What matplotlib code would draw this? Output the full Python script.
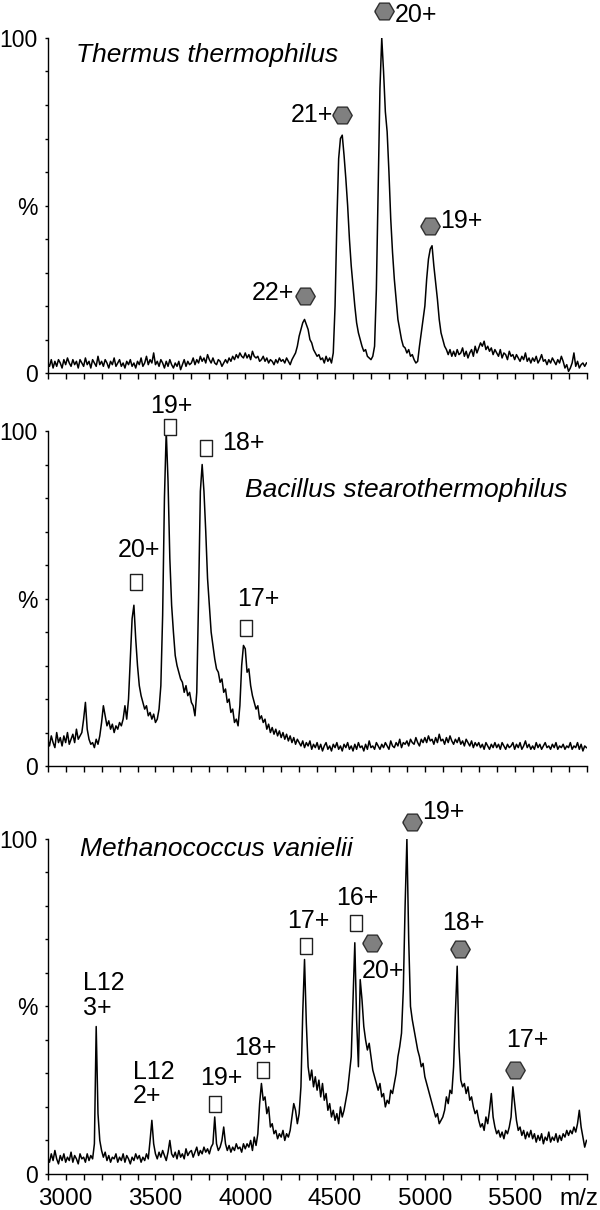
import numpy as np
import matplotlib
matplotlib.use("Agg")
import matplotlib.pyplot as plt

plt.rcParams['font.family'] = ['Liberation Sans', 'DejaVu Sans']

# m/z grid, one reading every 10 units
mz = np.arange(2900, 5901, 10)

# Thermus thermophilus (% intensity)
thermus = [
    3, 2, 4, 1.5, 3.5, 2, 4, 3, 1.5, 4,
    2.5, 4.5, 3, 2, 4, 2.5, 3.5, 1.5, 4, 3,
    2, 4.5, 2.5, 3.5, 1.5, 4, 3, 2, 5, 2.5,
    3.5, 2, 4, 3, 1.5, 3.5, 2.5, 4.5, 2, 3,
    4, 2, 3, 1.5, 3.5, 2.5, 4, 2, 3, 1.5,
    3.5, 2.5, 4.5, 2, 3, 5, 2.5, 4, 3, 6,
    2.5, 3.5, 2, 4, 3, 1.5, 3.5, 2, 4, 2.5,
    1.5, 3, 2, 3.5, 1, 2.5, 4, 2, 3.5, 2.5,
    3, 4.5, 2.5, 4, 3, 5, 3.5, 4.5, 3, 5.5,
    4, 3, 4.5, 3, 2.5, 4, 3.5, 2, 3, 4,
    3, 4.5, 3.5, 5, 4, 5.5, 4.5, 6, 5, 4.5,
    6, 4.5, 5.5, 4, 6.5, 5, 4.5, 5, 3.5, 4,
    5, 3.5, 4.5, 3, 4, 3.5, 2.5, 4, 3, 4.5,
    3.5, 4, 3, 4.5, 3.5, 2.5, 4, 5, 6, 8,
    11, 13, 15, 16, 14.5, 13, 10, 9, 7, 6,
    5, 5.5, 4, 4.5, 3, 5, 3.5, 4.5, 3, 6,
    20, 45, 64, 70, 71, 65, 58, 50, 40, 32,
    26, 20, 15, 12, 10, 8, 6.5, 7, 5, 4.5,
    4, 5, 8, 25, 55, 85, 100, 90, 78, 72,
    60, 46, 36, 28, 22, 16, 13, 10, 8, 7.5,
    6, 7, 5, 5.5, 4, 3, 3.5, 8, 12, 16,
    20, 28, 34, 37, 38, 32, 27, 22, 16, 12,
    10, 8, 7, 5.5, 7, 5, 6.5, 5, 7, 5.5,
    6, 7.5, 5, 6.5, 4.5, 6, 7, 5, 8, 6,
    7.5, 9, 8, 9.5, 7, 8, 6.5, 7.5, 5.5, 7,
    6, 5, 7, 4.5, 6, 5.5, 4, 6.5, 5, 5.5,
    4, 5.5, 4.5, 3.5, 5, 4, 6, 3.5, 4.5, 3,
    4.5, 3.5, 5, 3, 4, 5.5, 3.5, 4, 2.5, 4,
    3, 4.5, 3.5, 2.5, 4, 3, 5, 3.5, 1.5, 2.5,
    0.5, 1.5, 3, 6, 2, 3.5, 1.5, 2.5, 3, 2,
    3,
]

# Bacillus stearothermophilus
bacillus = [
    8, 6, 9, 7, 5.5, 10, 7, 8.5, 6, 9,
    7, 10, 6.5, 8, 9.5, 7, 11, 8, 9, 10,
    14, 19, 11, 8, 6.5, 7, 5.5, 8, 6.5, 9,
    13, 18, 15, 12, 13.5, 11, 12.5, 10, 12, 11,
    13, 12, 14, 18, 14, 20, 32, 44, 48, 38,
    30, 24, 21, 19, 17, 18, 15, 16, 14, 15.5,
    13, 14, 17, 24, 45, 80, 100, 85, 62, 48,
    40, 33, 30, 28, 26, 25, 22, 24, 21, 22,
    19, 18, 15, 22, 50, 82, 90, 82, 70, 56,
    48, 40, 36, 32, 29, 28, 25, 26, 22, 23,
    19, 20, 16, 17, 13, 14, 12, 18, 30, 36,
    35, 28, 29, 24, 21, 19, 17, 18, 14, 15,
    13, 14, 11, 12.5, 10, 11.5, 9.5, 11, 9, 10.5,
    8.5, 10, 8, 9.5, 7.5, 9, 7, 8.5, 6.5, 8,
    7, 6, 7.5, 5.5, 7, 6, 7.5, 5, 6.5, 5.5,
    7, 5, 6.5, 4.5, 6, 7, 5, 6, 4.5, 6.5,
    5.5, 7, 5, 6, 4.5, 6.5, 5.5, 7, 5, 6,
    4.5, 6.5, 5, 7, 5.5, 6, 4.5, 6.5, 5, 7.5,
    5.5, 6, 5, 7, 6, 5, 6.5, 5.5, 7, 6,
    5, 7.5, 6, 5.5, 7, 6, 8, 5.5, 7, 6.5,
    7.5, 6, 8, 7, 6.5, 8.5, 7, 6, 8, 7,
    8.5, 7, 9, 7.5, 8, 6.5, 8.5, 7, 9.5, 7.5,
    8, 6.5, 8.5, 7, 9, 7.5, 6.5, 8, 7, 8.5,
    6.5, 7.5, 6, 8, 7, 6, 7.5, 5.5, 7, 6,
    7, 5.5, 6.5, 5, 7, 6, 5, 6.5, 5.5, 7,
    5.5, 6.5, 5, 7, 6, 5, 6.5, 5.5, 6, 7,
    5, 6.5, 5.5, 7, 5, 6, 7.5, 5.5, 6.5, 5,
    6, 5, 7, 5.5, 6.5, 5, 6, 7, 5.5, 6,
    5, 6.5, 5.5, 7, 5, 6, 5.5, 6.5, 5, 6,
    5.5, 7, 5, 6, 5.5, 7, 5, 6.5, 4.5, 6,
    5.5,
]

# Methanococcus vanielii
methano = [
    5, 3.5, 6, 4, 7, 4.5, 3, 5.5, 4, 6,
    3.5, 5, 4, 6.5, 3.5, 5.5, 4.5, 3, 6, 4.5,
    5, 3.5, 6, 4, 5.5, 4.5, 9, 44, 18, 10,
    7, 5, 6.5, 4, 5.5, 3.5, 5, 4.5, 6, 3.5,
    5, 4, 6, 3.5, 5.5, 4.5, 3, 5, 4, 6,
    4.5, 5.5, 3.5, 5, 4, 6, 4.5, 10, 16, 9,
    6, 4.5, 6.5, 5, 7, 5.5, 4, 6.5, 10, 6,
    5, 6.5, 4.5, 7, 5, 6, 4.5, 7.5, 5.5, 6.5,
    7, 5, 6.5, 8, 5.5, 7, 6, 8, 6.5, 7.5,
    6, 8, 9, 17, 9, 7, 8, 10, 14, 9,
    7, 8.5, 6.5, 8, 7, 9, 7.5, 8, 6.5, 9,
    7.5, 9, 8, 10, 7, 11, 8.5, 12, 21, 27,
    22, 23, 18, 20, 14, 15, 12, 13, 10.5, 12,
    11, 13, 10, 12, 11, 13, 17, 21, 19, 15,
    18, 26, 48, 64, 45, 32, 28, 31, 26, 29,
    25, 28, 23, 27, 22, 24, 19, 21, 17, 19,
    16, 18, 15, 20, 17, 19, 22, 25, 30, 35,
    52, 69, 46, 32, 58, 52, 44, 40, 37, 39,
    35, 31, 29, 27, 25, 27, 23, 24, 20, 22,
    21, 25, 24, 27, 30, 35, 38, 42, 55, 80,
    100, 70, 50, 46, 43, 40, 37, 35, 32, 33,
    29, 27, 25, 23, 21, 19, 17, 18, 15, 16,
    17, 19, 23, 21, 25, 24, 32, 48, 62, 38,
    28, 26, 27, 24, 26, 22, 23, 20, 18, 19,
    16, 14, 15, 13, 17, 15, 19, 24, 17, 14,
    12, 13, 11, 12.5, 10.5, 13, 12, 14, 17, 26,
    21, 16, 13, 14, 11.5, 13, 10.5, 12.5, 11, 13,
    10.5, 12, 9.5, 11.5, 10, 12, 9, 11, 10, 12.5,
    9.5, 11, 10, 12, 9.5, 11.5, 10, 12, 11, 13,
    11.5, 13, 12, 14, 12.5, 15, 19, 14, 11, 8,
    10,
]

species = ["Thermus thermophilus", "Bacillus stearothermophilus", "Methanococcus vanielii"]
spectra = [thermus, bacillus, methano]

# peak labels: (marker, marker x, marker y, text, text x, text y, ha)
labels = [
    [("hex", 4770, 108, "20+", 4830, 107, "left"),
     ("hex", 4540, 77, "21+", 4492, 77, "right"),
     ("hex", 4330, 23, "22+", 4270, 24, "right"),
     ("hex", 5030, 44, "19+", 5086, 45.5, "left")],
    [("sq", 3581, 101.3, "19+", 3591, 107.5, "center"),
     ("sq", 3783, 95, "18+", 3872, 96.5, "left"),
     ("sq", 3389, 55, "20+", 3411, 64.5, "center"),
     ("sq", 4006, 41.3, "17+", 4072, 50, "center")],
    [(None, 0, 0, "L12", 3098, 57, "left"),
     (None, 0, 0, "3+", 3098, 49.5, "left"),
     (None, 0, 0, "L12", 3374, 30.5, "left"),
     (None, 0, 0, "2+", 3374, 23.3, "left"),
     ("sq", 3832, 21, "19+", 3864, 28.5, "center"),
     ("sq", 4098, 31, "18+", 4055, 37.5, "center"),
     ("sq", 4336, 68, "17+", 4353, 75.5, "center"),
     ("sq", 4619, 75, "16+", 4623, 82.5, "center"),
     ("hex", 4704, 69, "20+", 4768, 60.5, "center"),
     ("hex", 4928, 105, "19+", 4982, 108, "left"),
     ("hex", 5198, 67, "18+", 5215, 75, "center"),
     ("hex", 5502, 31, "17+", 5570, 40, "center")],
]

title_pos = [(3060, 95), (3996, 82.5), (3081, 97)]

hexagon = [(-1, 0), (-0.5, 0.86), (0.5, 0.86), (1, 0), (0.5, -0.86), (-0.5, -0.86), (-1, 0)]
rect = [(-0.78, -1), (0.78, -1), (0.78, 1), (-0.78, 1), (-0.78, -1)]

fig = plt.figure(figsize=(6, 12.1), dpi=100)
bottoms = [0.6917, 0.3669, 0.0298]

for i in range(3):
    ax = fig.add_axes([0.0795, bottoms[i], 0.898, 0.2769])
    ax.plot(mz, spectra[i], color='black', lw=1.1)
    ax.set_xlim(2900, 5900)
    ax.set_ylim(0, 100)
    for s in ['top', 'right']:
        ax.spines[s].set_visible(False)
    for s in ['left', 'bottom']:
        ax.spines[s].set_linewidth(1.0)

    ax.set_xticks(np.arange(2900, 5901, 100))
    ax.set_yticks(np.arange(0, 101, 10))
    ax.set_yticklabels(['0', '', '', '', '', '%', '', '', '', '', '100'])
    ax.tick_params(axis='x', direction='out', length=4, width=1, labelsize=17.5, pad=6)
    ax.tick_params(axis='y', direction='out', length=2.5, width=1, labelsize=16.5, pad=4.5)
    if i == 2:
        ax.set_xticklabels([str(v) if v % 500 == 0 and v < 5900 else '' for v in range(2900, 5901, 100)])
        ax.annotate('m/z', xy=(5858, 0), xycoords=('data', 'axes fraction'),
                    xytext=(0, -10), textcoords='offset points',
                    ha='center', va='top', fontsize=17.5)
    else:
        ax.set_xticklabels([])

    ax.text(title_pos[i][0], title_pos[i][1], species[i], style='italic',
            fontsize=19, ha='left', va='center')

    for kind, mx, my, txt, tx, ty, ha in labels[i]:
        if kind == "hex":
            ax.plot(mx, my, marker=hexagon, ms=14, mfc='#808080', mec='#303030',
                    mew=1.0, clip_on=False, zorder=5)
        elif kind == "sq":
            ax.plot(mx, my, marker=rect, ms=11.5, mfc='white', mec='#202020',
                    mew=1.0, clip_on=False, zorder=5)
        ax.text(tx, ty, txt, fontsize=18, ha=ha, va='center', clip_on=False)

fig.savefig("out.png", dpi=100)
